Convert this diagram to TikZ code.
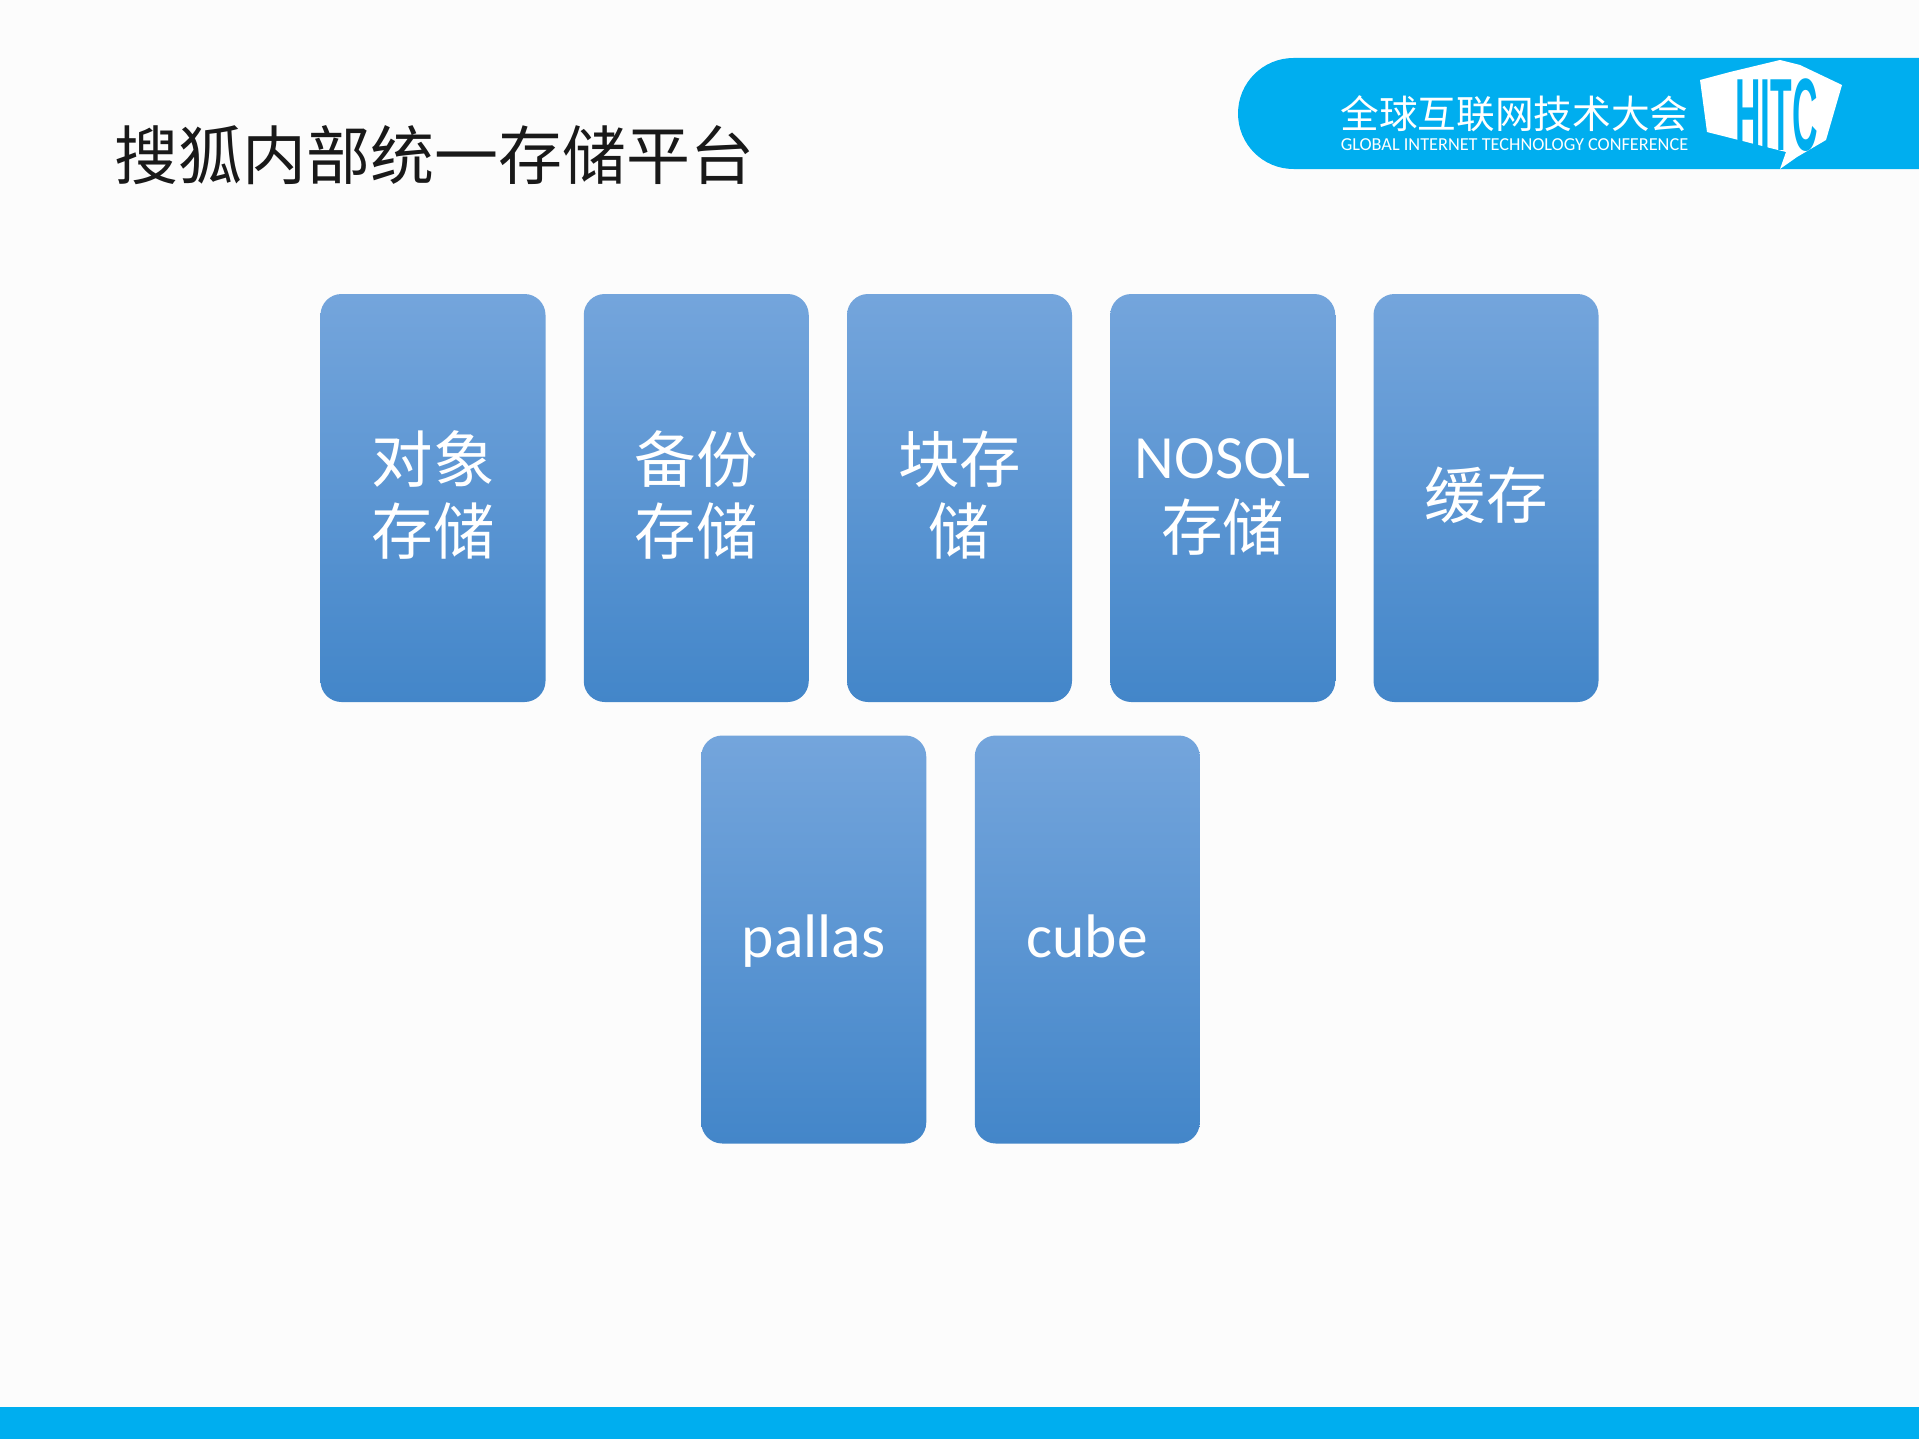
\documentclass[tikz,border=0pt]{standalone}
\usepackage{fontspec}
\setmainfont{Carlito}
\newfontfamily\cjk{Noto Sans CJK SC}
\newfontfamily\hitcfont{Liberation Sans}
\usetikzlibrary{positioning}
\definecolor{hitc_blue}{HTML}{00AEEF}
\definecolor{store_top}{HTML}{74A5DC}
\definecolor{store_mid}{HTML}{5597D9}
\definecolor{store_bot}{HTML}{4386C9}
\tikzset{
    store_box/.style={rectangle, rounded corners=0.42cm, minimum width=4.5cm, minimum height=8.16cm, inner sep=0pt, outer sep=0pt, text centered, align=center, text=white, top color=store_top, middle color=store_mid, bottom color=store_bot, font=\fontsize{35}{41}\selectfont},
    cn_box/.style={store_box, text depth=0.2cm},
    latin_box/.style={store_box, text depth=0.13cm},
    title_text/.style={inner sep=0pt, text=black!90, font=\cjk\fontsize{36.4}{40}\selectfont},
    band/.style={fill=hitc_blue, draw=none},
    logo_text/.style={inner sep=0pt, text=white},
}
\begin{document}
\begin{tikzpicture}[node distance=0.765cm]
      \useasboundingbox (0,0) rectangle (38.38,-28.78);
      \fill [white!99!black] (0,0) rectangle (38.38,-28.78);

      \node (title) [title_text, anchor=west] at (2.28,-3.1){搜狐内部统一存储平台};

      \fill [band] (38.38,-1.16) -- (25.87,-1.16) arc[start angle=90, end angle=270, radius=1.11cm] -- (38.38,-3.38) -- cycle;
      \fill [band] (0,-28.14) rectangle (38.38,-28.78);

      \node (logo_cn) [logo_text, font=\cjk\fontsize{22}{24}\selectfont] at (30.29,-2.27){全球互联网技术大会};
      \node (logo_en) [logo_text, font=\fontsize{10.4}{11}\selectfont, below=0.13cm of logo_cn]{GLOBAL INTERNET TECHNOLOGY CONFERENCE};
      \fill [white] (34,-1.6) -- (34.6,-1.44) -- (35.6,-1.2) -- (36,-1.3) -- (36.84,-1.7) -- (36.52,-2.8) -- (35.94,-3.14) -- (35.6,-3.38) -- (35.72,-3.04) -- (34.14,-2.64) -- cycle;
      \node (logo_mark) [inner sep=0pt, text=hitc_blue, font=\hitcfont\bfseries\fontsize{30}{30}\selectfont, xscale=0.67, yscale=1.95] at (35.53,-2.3){HITC};

      \node (object_store) [cn_box, anchor=north west] at (6.41,-5.88){\cjk 对象\\\cjk 存储};
      \node (backup_store) [cn_box, right = of object_store]{\cjk 备份\\\cjk 存储};
      \node (block_store) [cn_box, right = of backup_store]{\cjk 块存\\\cjk 储};
      \node (nosql_store) [latin_box, right = of block_store]{NOSQL\\\cjk 存储};
      \node (cache_store) [cn_box, right = of nosql_store]{\cjk 缓存};

      \node (pallas) [latin_box, below = 0.67cm of backup_store, xshift=2.35cm]{pallas};
      \node (cube) [latin_box, right = 0.97cm of pallas]{cube};
   \end{tikzpicture}
\end{document}
